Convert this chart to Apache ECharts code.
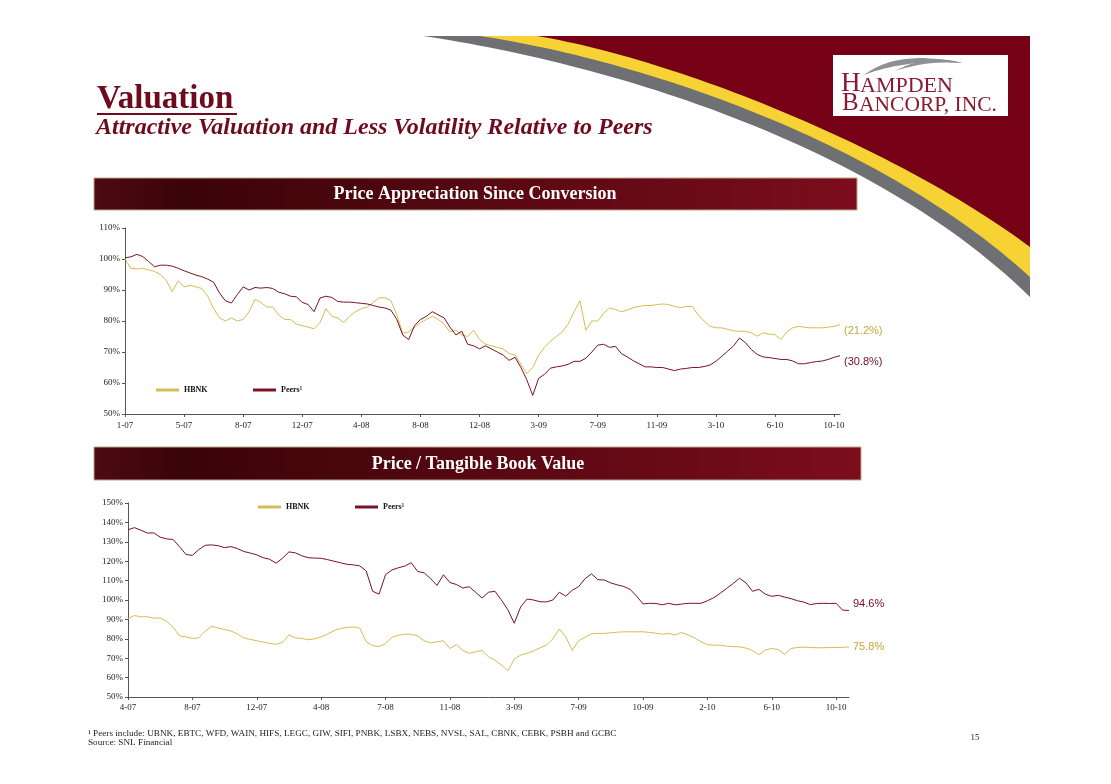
<!DOCTYPE html>
<html><head><meta charset="utf-8">
<script src="https://cdn.jsdelivr.net/npm/echarts@6/dist/echarts.min.js"></script>
<style>html,body{margin:0;padding:0;background:#fff}#c{width:1111px;height:784px}</style>
</head><body><div id="c"></div>
<script>
// ---- data ----
const ticks1 = ['1-07','5-07','8-07','12-07','4-08','8-08','12-08','3-09','7-09','11-09','3-10','6-10','10-10'];
const ticks2 = ['4-07','8-07','12-07','4-08','7-08','11-08','3-09','7-09','10-09','2-10','6-10','10-10'];
const seriesNames = ['HBNK', 'Peers\u00B9'];
const endLabels1 = ['(21.2%)', '(30.8%)'];
const endLabels2 = ['75.8%', '94.6%'];

const hbnk1 = [
 100, 97, 96.8, 97, 96.5, 96, 95, 93, 89.5, 93,
 91, 91.5, 91, 90.5, 88, 84, 81, 80, 81, 80,
 80.5, 83, 87, 86, 84.5, 84.5, 82, 80.5, 80.5, 79,
 78.5, 78, 77.5, 79.5, 84, 81.5, 81, 79.5, 81.5, 83,
 84, 84.5, 86, 87.5, 87.5, 86.5, 82, 76, 76.5, 78,
 79.5, 80.5, 81.5, 80.5, 79, 76.5, 77, 75.5, 75, 77,
 74, 72.5, 72, 71.5, 71, 69.5, 69, 66, 63, 65,
 69, 71.5, 73.5, 75, 76.5, 79, 83, 86.5, 77, 80,
 80, 82.5, 84.2, 83.7, 83, 83.5, 84.3, 84.7, 85, 85,
 85.3, 85.5, 85.3, 84.7, 84.3, 84.7, 84.7, 82, 80, 78.3,
 77.8, 77.8, 77.3, 76.8, 76.7, 76.7, 76.2, 75.1, 76.2, 75.8,
 75.6, 74, 76.5, 77.8, 78.3, 78, 77.8, 77.8, 77.8, 78,
 78.3, 78.8
];
const peers1 = [
 100.4, 100.7, 101.5, 100.8, 99.2, 97.5, 98, 98, 97.7, 97,
 96.2, 95.5, 94.8, 94.3, 93.5, 92.5, 89, 86.5, 85.8, 88.5,
 91, 90, 90.8, 90.6, 90.8, 90.5, 89.3, 88.8, 88, 87.8,
 86, 85.3, 83, 87.4, 88, 87.6, 86.3, 86.1, 86.1, 85.9,
 85.7, 85.5, 85, 84.5, 84.2, 83.5, 80.5, 75.5, 74, 78.5,
 80.5, 81.5, 83, 82, 81, 78, 75.5, 76.7, 72.5, 72,
 71, 72, 71, 70, 69, 67.3, 68.3, 65, 61, 56,
 61.5, 62.8, 64.8, 65.2, 65.5, 66, 67, 67, 68, 70,
 72.2, 72.5, 71.5, 71.8, 69.5, 68.4, 67.2, 66.2, 65.2, 65.2,
 65, 65, 64.5, 64, 64.5, 64.7, 65, 65, 65.3, 65.8,
 67, 68.6, 70.3, 72, 74.5, 73, 70.8, 69.2, 68.4, 68.2,
 67.9, 67.6, 67.6, 67.1, 66.2, 66.2, 66.6, 66.9, 67.1, 67.6,
 68.3, 68.8
];
const hbnk2 = [
 90.5, 92, 91.3, 91.4, 90.6, 90.8, 89, 86, 81.5, 81,
 80.2, 80.5, 84, 86.5, 85.6, 84.8, 84, 82.5, 80.5, 79.7,
 79, 78.3, 77.6, 77.2, 78.2, 82, 80.5, 80.2, 79.5, 80,
 81, 82.4, 84.2, 85.3, 85.8, 86.1, 85.5, 78.5, 76.5, 76,
 77.5, 80.8, 81.8, 82.4, 82.3, 81.5, 79, 77.9, 78.4, 79,
 75, 77, 74, 72.5, 73.3, 74, 70.7, 69, 66.5, 63.5,
 69.5, 71.6, 72.5, 73.8, 75.4, 76.7, 80, 85, 81, 74,
 79, 80.8, 82.6, 82.8, 82.8, 83.1, 83.4, 83.6, 83.6, 83.6,
 83.6, 83.3, 82.9, 82.4, 82.8, 82, 83.3, 82, 80.5, 78.5,
 77, 76.7, 76.7, 76.2, 75.9, 75.9, 75.2, 74, 71.8, 74.2,
 75, 74.5, 72, 75, 75.5, 75.7, 75.5, 75.4, 75.4, 75.5,
 75.5, 75.6, 75.8
];
const peers2 = [
 136.2, 137.3, 136, 134.5, 134.6, 132.4, 131.5, 131.2, 127.5, 123.5,
 123, 126, 128.2, 128.4, 128, 127, 127.5, 126.5, 125, 124.2,
 123.3, 121.8, 121, 119, 121.5, 124.8, 124.3, 122.8, 121.8, 121.6,
 121.5, 120.8, 120, 119.2, 118.4, 118.1, 117.6, 115, 104.5, 103,
 113, 115.5, 116.6, 117.5, 119.2, 114.7, 114, 111, 107.5, 113,
 109, 108, 106.2, 106.8, 104, 101, 104, 104.5, 100, 95,
 88, 96.5, 100.5, 100, 99.1, 99, 100, 104, 102, 105,
 106.9, 111, 113.5, 110.5, 110.3, 108.8, 107.8, 107, 105.5, 102,
 98, 98.3, 98.2, 97.5, 98.3, 97.5, 97.9, 98.3, 98.3, 98.3,
 99.6, 101.2, 103.5, 106, 108.5, 111.2, 108.8, 104.5, 105.5, 103,
 101.9, 102.4, 101.5, 100.7, 99.6, 98.9, 97.6, 98.2, 98.3, 98.2,
 98.3, 94.8, 94.6
];
const TICK_EVERY = 10;

// ---- styling ----
const GOLD = '#d6bc52', MAROON = '#7a1224';
const SERIF = '"Liberation Serif","Times New Roman",serif';
const SANS = '"Liberation Sans",Arial,sans-serif';
const TITLE_C = '#6e0b1e';

const cats1 = hbnk1.map((_, i) => String(i));
const cats2 = hbnk2.map((_, i) => String(i));

// decorative shapes: sample bezier curves into polygon outlines
function cubic(p0, p1, p2, p3, n) {
  const pts = [];
  for (let k = 0; k <= n; k++) {
    const t = k / n, u = 1 - t;
    pts.push([
      u*u*u*p0[0] + 3*u*u*t*p1[0] + 3*u*t*t*p2[0] + t*t*t*p3[0],
      u*u*u*p0[1] + 3*u*u*t*p1[1] + 3*u*t*t*p2[1] + t*t*t*p3[1]
    ]);
  }
  return pts;
}
function quad(p0, p1, p2, n) {
  const pts = [];
  for (let k = 0; k <= n; k++) {
    const t = k / n, u = 1 - t;
    pts.push([u*u*p0[0] + 2*u*t*p1[0] + t*t*p2[0], u*u*p0[1] + 2*u*t*p1[1] + t*t*p2[1]]);
  }
  return pts;
}
function swoosh(start, c1, c2, end) {
  return cubic(start, c1, c2, end, 60).concat([[1030, 36]]);
}
function crescent(a, c1, b, c2) {
  return quad(a, c1, b, 30).concat(quad(b, c2, a, 30).slice(1));
}

function xAxisCfg(grid, cats, ticks, margin) {
  return {
    type: 'category', gridIndex: grid, data: cats, boundaryGap: false,
    axisLine: { show: true, lineStyle: { color: '#555', width: 1 } },
    axisTick: { show: true, interval: TICK_EVERY - 1, length: 3, lineStyle: { color: '#555' } },
    axisLabel: {
      interval: TICK_EVERY - 1, margin: margin, fontFamily: SERIF, fontSize: 9, color: '#222',
      formatter: (v, idx) => (idx % TICK_EVERY === 0 ? (ticks[idx / TICK_EVERY] || '') : '')
    },
    splitLine: { show: false }
  };
}
function yAxisCfg(grid, min, max) {
  return {
    type: 'value', gridIndex: grid, min: min, max: max, interval: 10,
    axisLine: { show: true, lineStyle: { color: '#555', width: 1 } },
    axisTick: { show: true, length: 3, lineStyle: { color: '#555' } },
    axisLabel: { formatter: '{value}%', fontFamily: SERIF, fontSize: 9, color: '#222', margin: 5 },
    splitLine: { show: false }
  };
}
function lineSeries(name, xi, data, color, label, off, lblColor) {
  return {
    name: name, type: 'line', xAxisIndex: xi, yAxisIndex: xi, data: data,
    color: color, showSymbol: false, symbol: 'none',
    lineStyle: { color: color, width: 1 },
    endLabel: { show: true, formatter: label, color: lblColor, fontFamily: SANS, fontSize: 11, offset: off, distance: 4 },
    emphasis: { disabled: true }
  };
}
function legendCfg(name, left, top) {
  return {
    data: [name], left: left, top: top, padding: 0, icon: 'rect', itemWidth: 23, itemHeight: 3,
    selectedMode: false,
    textStyle: { fontFamily: SERIF, fontWeight: 'bold', fontSize: 8, color: '#111' }
  };
}
const bannerFill = { type: 'linear', x: 0, y: 0, x2: 1, y2: 0, colorStops: [ { offset: 0, color: '#4c0a12' }, { offset: 0.12, color: '#3a0408' }, { offset: 1, color: '#7c0d1d' } ] };

const graphic = [
  // swoosh
  { type: 'polygon', z: 0, shape: { points: swoosh([423,36],[600,62],[870,140],[1030,297]) }, style: { fill: '#6f7073' } },
  { type: 'polygon', z: 0, shape: { points: swoosh([480,36],[640,60],[880,140],[1030,277]) }, style: { fill: '#f6d235' } },
  { type: 'polygon', z: 0, shape: { points: swoosh([537,36],[680,60],[900,150],[1030,247]) }, style: { fill: '#760016' } },
  // logo
  { type: 'rect', z: 1, shape: { x: 833, y: 55, width: 175, height: 61 }, style: { fill: '#ffffff' } },
  { type: 'polygon', z: 2, shape: { points: crescent([864,75],[898,49],[962,63],[905,59]) }, style: { fill: '#8d9195' } },
  { type: 'polygon', z: 2, shape: { points: crescent([895,71],[928,53],[962,63],[928,60]) }, style: { fill: '#8d9195' } },
  { type: 'text', z: 2, style: { text: 'H', x: 841, y: 84, font: '27px ' + SERIF, fill: '#8a1a33', align: 'left', verticalAlign: 'middle' } },
  { type: 'text', z: 2, style: { text: 'AMPDEN', x: 860, y: 86, font: '22px ' + SERIF, fill: '#8a1a33', align: 'left', verticalAlign: 'middle' } },
  { type: 'text', z: 2, style: { text: 'B', x: 842, y: 103.5, font: '25px ' + SERIF, fill: '#8a1a33', align: 'left', verticalAlign: 'middle' } },
  { type: 'text', z: 2, style: { text: 'ANCORP, INC.', x: 859, y: 105, font: '21.5px ' + SERIF, fill: '#8a1a33', align: 'left', verticalAlign: 'middle' } },
  // titles
  { type: 'text', z: 2, style: { text: 'Valuation', x: 97, y: 99, font: 'bold 33px ' + SERIF, fill: TITLE_C, align: 'left', verticalAlign: 'middle' } },
  { type: 'rect', z: 2, shape: { x: 97, y: 113, width: 140, height: 2 }, style: { fill: TITLE_C } },
  { type: 'text', z: 2, style: { text: 'Attractive Valuation and Less Volatility Relative to Peers', x: 96, y: 128, font: 'italic bold 24px ' + SERIF, fill: TITLE_C, align: 'left', verticalAlign: 'middle' } },
  // banners
  { type: 'rect', z: 1, shape: { x: 94, y: 178, width: 763, height: 32 }, style: { stroke: '#bfa488', lineWidth: 1, fill: bannerFill } },
  { type: 'text', z: 2, style: { text: 'Price Appreciation Since Conversion', x: 475, y: 194, font: 'bold 18px ' + SERIF, fill: '#ffffff', align: 'center', verticalAlign: 'middle' } },
  { type: 'rect', z: 1, shape: { x: 94, y: 447, width: 767, height: 33 }, style: { stroke: '#bfa488', lineWidth: 1, fill: bannerFill } },
  { type: 'text', z: 2, style: { text: 'Price / Tangible Book Value', x: 478, y: 464, font: 'bold 18px ' + SERIF, fill: '#ffffff', align: 'center', verticalAlign: 'middle' } },
  // footnotes
  { type: 'text', z: 2, style: { text: '\u00B9 Peers include: UBNK, EBTC, WFD, WAIN, HIFS, LEGC, GIW, SIFI, PNBK, LSBX, NEBS, NVSL, SAL, CBNK, CEBK, PSBH and GCBC', x: 88, y: 734, font: '9.2px ' + SERIF, fill: '#222', align: 'left', verticalAlign: 'middle' } },
  { type: 'text', z: 2, style: { text: 'Source: SNL Financial', x: 88, y: 743, font: '9.2px ' + SERIF, fill: '#222', align: 'left', verticalAlign: 'middle' } },
  { type: 'text', z: 2, style: { text: '15', x: 975, y: 738, font: '9px ' + SERIF, fill: '#222', align: 'center', verticalAlign: 'middle' } }
];

const chart = echarts.init(document.getElementById('c'), null, { renderer: 'canvas' });
chart.setOption({
  animation: false,
  backgroundColor: '#ffffff',
  graphic: graphic,
  grid: [
    { left: 125, top: 228, width: 715, height: 186 },
    { left: 128, top: 503, width: 721, height: 194 }
  ],
  xAxis: [ xAxisCfg(0, cats1, ticks1, 7), xAxisCfg(1, cats2, ticks2, 6) ],
  yAxis: [ yAxisCfg(0, 50, 110), yAxisCfg(1, 50, 150) ],
  legend: [
    legendCfg(seriesNames[0], 156, 386),
    legendCfg(seriesNames[1], 253, 386),
    legendCfg(seriesNames[0], 258, 503),
    legendCfg(seriesNames[1], 355, 503)
  ],
  series: [
    lineSeries(seriesNames[0], 0, hbnk1, GOLD, endLabels1[0], [0, 6], '#c9a63a'),
    lineSeries(seriesNames[1], 0, peers1, MAROON, endLabels1[1], [0, 6], '#6e0b1f'),
    lineSeries(seriesNames[0], 1, hbnk2, GOLD, endLabels2[0], [0, 0], '#c9a63a'),
    lineSeries(seriesNames[1], 1, peers2, MAROON, endLabels2[1], [0, -7], '#6e0b1f')
  ]
});
</script>
</body></html>
